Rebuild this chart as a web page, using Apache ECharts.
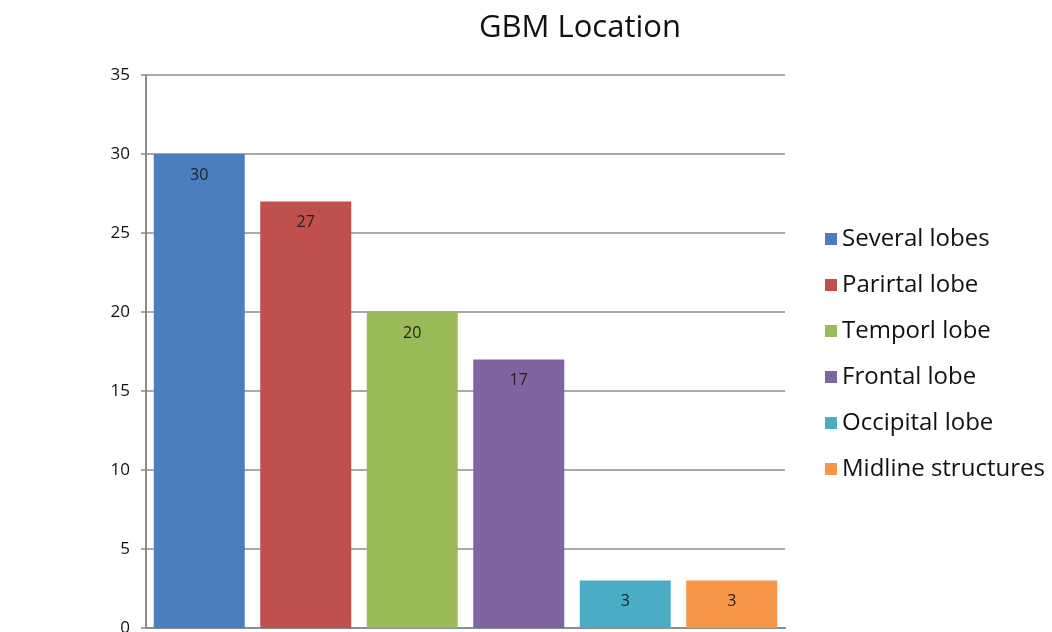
<!DOCTYPE html>
<html>
<head>
<meta charset="utf-8">
<script src="https://cdn.jsdelivr.net/npm/echarts@6/dist/echarts.min.js"></script>
<style>html,body{margin:0;padding:0;background:#fff;overflow:hidden}#c{width:1052px;height:632px}</style>
</head>
<body>
<div id="c"></div>
<script>
var categories = ['Several lobes', 'Parirtal lobe', 'Temporl lobe', 'Frontal lobe', 'Occipital lobe', 'Midline structures'];
var values = [30, 27, 20, 17, 3, 3];
var colors = ['#4A7EBF', '#C0504D', '#9BBB59', '#8064A2', '#4BACC6', '#F79646'];
var yTicks = [0, 5, 10, 15, 20, 25, 30, 35];

var chart = echarts.init(document.getElementById('c'));
var series = categories.map(function (name, i) {
  return {
    name: name,
    type: 'bar',
    stack: 'one',
    barWidth: 91,
    itemStyle: { color: colors[i] },
    label: {
      show: true, position: 'insideTop', distance: 13,
      color: '#222', fontSize: 16, fontFamily: 'Open Sans'
    },
    data: categories.map(function (c, j) { return j === i ? values[i] : '-'; })
  };
});
chart.setOption({
  backgroundColor: '#fff',
  animation: false,
  title: {
    text: 'GBM Location', left: 575, top: 8, textAlign: 'center',
    textStyle: { fontFamily: 'Open Sans', fontSize: 31, fontWeight: 'normal', color: '#111' }
  },
  legend: {
    orient: 'vertical', left: 820, top: 220, itemWidth: 12, itemHeight: 12, itemGap: 18,
    icon: 'rect',
    data: categories,
    textStyle: { fontFamily: 'Open Sans', fontSize: 24, color: '#111', lineHeight: 28 }
  },
  grid: { left: 146, right: 267, top: 75, bottom: 4, containLabel: false, outerBoundsMode: 'none' },
  xAxis: {
    type: 'category', data: categories,
    axisLine: { lineStyle: { color: '#8c8c8c', width: 2 } },
    axisTick: { show: false }, axisLabel: { show: false }
  },
  yAxis: {
    type: 'value', min: yTicks[0], max: yTicks[yTicks.length - 1], interval: 5,
    axisLine: { show: true, lineStyle: { color: '#8c8c8c', width: 2 } },
    axisTick: { show: true, length: 5, lineStyle: { color: '#8c8c8c', width: 1.5 } },
    axisLabel: { fontFamily: 'Open Sans', fontSize: 17, color: '#111', margin: 16 },
    splitLine: { lineStyle: { color: '#8c8c8c', width: 1.5 } }
  },
  series: series
});
</script>
</body>
</html>
